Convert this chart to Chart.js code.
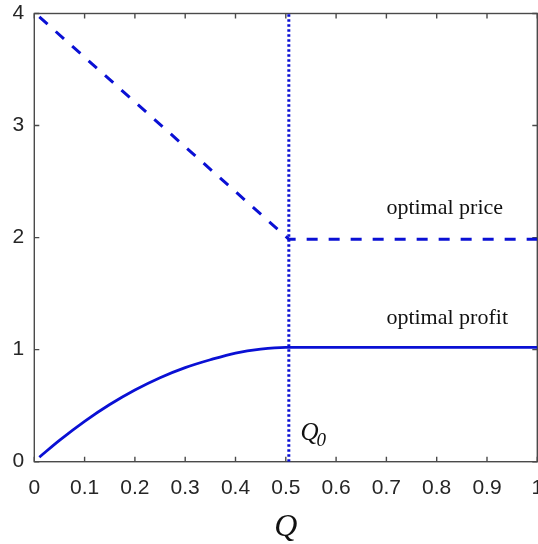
<!DOCTYPE html>
<html>
<head>
<meta charset="utf-8">
<script src="https://cdn.jsdelivr.net/npm/chart.js@4/dist/chart.umd.min.js"></script>
<style>
  html, body { margin: 0; padding: 0; background: #ffffff; }
  canvas { display: block; }
</style>
</head>
<body>
<canvas id="c" width="538" height="544"></canvas>
<script>
// Quantity Q and the optimal price / profit it yields
const priceQ = [0.01, 0.506, 1.0];
const priceVal = [3.97, 1.986, 1.986];

const profitQ = [0.01, 0.05, 0.10, 0.15, 0.20, 0.25, 0.30, 0.35, 0.40, 0.45, 0.50, 0.506, 1.0];
const profitVal = [0.04, 0.19, 0.36, 0.51, 0.64, 0.75, 0.84, 0.91, 0.97, 1.005, 1.02, 1.02, 1.02];

// Threshold quantity Q0
const q0 = 0.506;
const q0Line = [0, 4];

const xTicks = [0, 0.1, 0.2, 0.3, 0.4, 0.5, 0.6, 0.7, 0.8, 0.9, 1];
const yTicks = [0, 1, 2, 3, 4];

// Text annotations placed in data coordinates
const notes = [
  { text: 'optimal price', x: 0.70, y: 2.21 },
  { text: 'optimal profit', x: 0.70, y: 1.23 }
];

const BLUE = '#0a10d4';
const AXIS = '#4a4a4a';
const TEXT = '#262626';

const toPts = (xs, ys) => xs.map((x, i) => ({ x: x, y: ys[i] }));

// Box around the plot area with inward tick marks on all four sides
const boxPlugin = {
  id: 'box',
  beforeDatasetsDraw(chart) {
    const { ctx, chartArea: a, scales } = chart;
    ctx.save();
    ctx.strokeStyle = AXIS;
    ctx.lineWidth = 1.4;
    ctx.strokeRect(a.left, a.top, a.right - a.left, a.bottom - a.top);
    const len = 5;
    ctx.beginPath();
    xTicks.forEach(v => {
      const px = scales.x.getPixelForValue(v);
      ctx.moveTo(px, a.bottom); ctx.lineTo(px, a.bottom - len);
      ctx.moveTo(px, a.top); ctx.lineTo(px, a.top + len);
    });
    yTicks.forEach(v => {
      const py = scales.y.getPixelForValue(v);
      ctx.moveTo(a.left, py); ctx.lineTo(a.left + len, py);
      ctx.moveTo(a.right, py); ctx.lineTo(a.right - len, py);
    });
    ctx.stroke();
    ctx.restore();
  },
  afterDatasetsDraw(chart) {
    const { ctx, scales } = chart;
    ctx.save();
    ctx.fillStyle = '#111111';
    ctx.textBaseline = 'alphabetic';
    ctx.textAlign = 'left';
    ctx.font = '22px "Liberation Serif", "Times New Roman", serif';
    notes.forEach(n => {
      ctx.fillText(n.text, scales.x.getPixelForValue(n.x), scales.y.getPixelForValue(n.y));
    });
    // Q0 label beside the threshold line
    const qx = scales.x.getPixelForValue(0.529);
    const qy = scales.y.getPixelForValue(0.195);
    ctx.font = 'italic 25px "Liberation Serif", "Times New Roman", serif';
    ctx.fillText('Q', qx, qy);
    const w = ctx.measureText('Q').width;
    ctx.font = 'italic 19px "Liberation Serif", "Times New Roman", serif';
    ctx.fillText('0', qx + w - 2, qy + 6);
    ctx.restore();
  }
};

new Chart(document.getElementById('c'), {
  type: 'line',
  data: {
    datasets: [
      {
        label: 'optimal price',
        data: toPts(priceQ, priceVal),
        borderColor: BLUE,
        borderWidth: 3,
        borderDash: [11, 11],
        pointRadius: 0,
        fill: false
      },
      {
        label: 'optimal profit',
        data: toPts(profitQ, profitVal),
        borderColor: BLUE,
        borderWidth: 2.8,
        cubicInterpolationMode: 'monotone',
        pointRadius: 0,
        fill: false
      },
      {
        label: 'Q0',
        data: toPts([q0, q0], q0Line),
        borderColor: BLUE,
        borderWidth: 3,
        borderDash: [2.5, 2.5],
        pointRadius: 0,
        fill: false
      }
    ]
  },
  options: {
    responsive: false,
    animation: false,
    layout: { padding: { top: 13.5, right: 0.7, left: 0, bottom: 0 } },
    plugins: { legend: { display: false }, tooltip: { enabled: false } },
    scales: {
      x: {
        type: 'linear',
        min: 0,
        max: 1,
        afterBuildTicks(scale) { scale.ticks = xTicks.map(v => ({ value: v })); },
        afterFit(scale) { scale.height = 82.3; scale.paddingLeft = 0; scale.paddingRight = 0; },
        grid: { display: false, drawTicks: false },
        border: { display: false },
        ticks: {
          color: TEXT,
          font: { family: '"Liberation Sans", Arial, sans-serif', size: 21 },
          padding: 14,
          maxRotation: 0,
          autoSkip: false,
          callback: v => String(v)
        },
        title: {
          display: true,
          text: 'Q',
          color: '#111111',
          font: { family: '"Liberation Serif", "Times New Roman", serif', size: 32, style: 'italic' },
          padding: { top: 0, bottom: -3 }
        }
      },
      y: {
        type: 'linear',
        min: 0,
        max: 4,
        afterBuildTicks(scale) { scale.ticks = yTicks.map(v => ({ value: v })); },
        afterFit(scale) { scale.width = 34.3; scale.paddingTop = 0; scale.paddingBottom = 0; },
        grid: { display: false, drawTicks: false },
        border: { display: false },
        ticks: {
          color: TEXT,
          font: { family: '"Liberation Sans", Arial, sans-serif', size: 21 },
          padding: 10,
          autoSkip: false,
          callback: v => String(v)
        }
      }
    }
  },
  plugins: [boxPlugin]
});
</script>
</body>
</html>
